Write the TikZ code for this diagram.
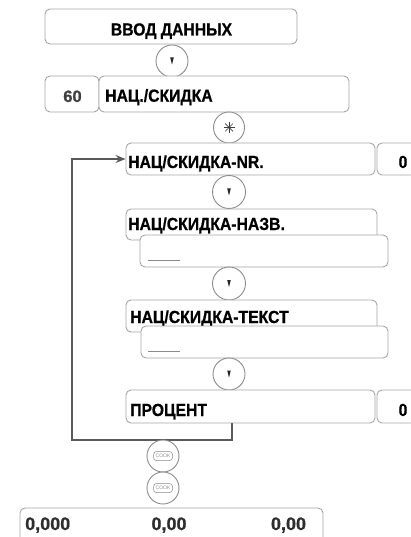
\documentclass[tikz,border=0pt]{standalone}
\usepackage{fontspec}
\setmainfont{Liberation Sans}
\newfontfamily\heavy{Liberation Sans}[FakeStretch=0.9, BoldFeatures={FakeBold=0.7}]
\newfontfamily\heavynum{Liberation Sans}[BoldFeatures={FakeBold=0.8}]
\usetikzlibrary{arrows.meta}
\definecolor{boxgray}{HTML}{A6A6A6}
\definecolor{circgray}{HTML}{8C8C8C}
\definecolor{loopgray}{HTML}{5A5A5A}
\definecolor{numgray}{HTML}{2E2E2E}
\begin{document}
\begin{tikzpicture}[x=1pt,y=-1pt,
  box/.style={draw=boxgray, line width=0.9pt, rounded corners=5pt, fill=white, inner sep=0pt},
  keycirc/.style={circle, draw=circgray, line width=0.9pt, fill=white, inner sep=0pt, minimum size=#1},
  keycirc/.default=32pt,
  lbl/.style={anchor=base west, inner sep=0pt, font=\fontsize{17.5}{20}\heavy\bfseries},
  num/.style={anchor=base, inner sep=0pt, text=numgray, font=\fontsize{18}{20}\heavynum\bfseries},
  blank/.style={draw=circgray, line width=0.8pt},
  dnarrow/.style={path picture={\fill[black!85] ([xshift=-1.8pt,yshift=3.5pt]path picture bounding box.center) -- ++(3.6pt,0pt) -- ++(-1.8pt,-7pt) -- cycle;}},
  star/.style={path picture={\foreach \a in {0,45,90,135}{\draw[black!75, line width=0.7pt] (path picture bounding box.center) ++(\a:5.5pt) -- ++(\a+180:11pt);}}},
  cookkey/.style={draw=circgray, line width=0.5pt, rounded corners=3pt, inner sep=1pt, minimum width=19pt, minimum height=9pt, text=circgray, font=\fontsize{5}{5}\selectfont},
  loopline/.style={draw=loopgray, line width=1.3pt, -{Stealth[length=10pt,width=8pt]}}
]
\useasboundingbox (0,0) rectangle (410,537);

% top box
\node[box, minimum width=252pt, minimum height=35pt] (bA) at (171,26.5) {};
\node[anchor=base, inner sep=0pt, font=\fontsize{17.5}{20}\heavy\bfseries] (tA) at (171.5,35.5) {ВВОД ДАННЫХ};
\node[keycirc, dnarrow] (c1) at (172,61) {};

% 60 / НАЦ./СКИДКА
\node[box, minimum width=54pt, minimum height=36pt] (b60) at (72,94) {};
\node[num, font=\fontsize{16.5}{18}\heavynum\bfseries, text=black!75] (t60) at (72.5,102) {60};
\node[box, minimum width=250pt, minimum height=36pt] (bNC) at (224,94) {};
\node[lbl] (tNC) at (105,101.7) {НАЦ./СКИДКА};
\node[keycirc=31pt, star] (c2) at (229,127.5) {};

% NR
\node[box, minimum width=249pt, minimum height=32pt] (bNR) at (250.5,159) {};
\node[lbl] (tNR) at (128,168) {НАЦ/СКИДКА-NR.};
\node[box, minimum width=48pt, minimum height=32pt] (b0a) at (401,159) {};
\node[anchor=base, inner sep=0pt, font=\fontsize{17.5}{20}\heavy\bfseries] (t0a) at (403,168) {0};
\node[keycirc=33pt, dnarrow] (c3) at (229,192) {};

% НАЗВ
\node[box, minimum width=251pt, minimum height=31pt] (bNZ) at (251.5,224.5) {};
\node[lbl] (tNZ) at (128,230) {НАЦ/СКИДКА-НАЗВ.};
\node[box, minimum width=248pt, minimum height=32pt] (iNZ) at (264,251) {};
\draw[blank] (148,260) -- (180,260);
\node[keycirc=33pt, dnarrow] (c4) at (229,283.5) {};

% ТЕКСТ
\node[box, minimum width=251pt, minimum height=32pt] (bTX) at (251.5,316) {};
\node[lbl] (tTX) at (130,323) {НАЦ/СКИДКА-ТЕКСТ};
\node[box, minimum width=247pt, minimum height=32pt] (iTX) at (264.5,342) {};
\draw[blank] (148,351) -- (180,351);
\node[keycirc=32pt, dnarrow] (c5) at (229,374) {};

% ПРОЦЕНТ
\node[box, minimum width=249pt, minimum height=33pt] (bPR) at (250.5,406.5) {};
\node[lbl] (tPR) at (130,416) {ПРОЦЕНТ};
\node[box, minimum width=48pt, minimum height=33pt] (b0b) at (401,406.5) {};
\node[anchor=base, inner sep=0pt, font=\fontsize{17.5}{20}\heavy\bfseries] (t0b) at (403,416) {0};

% loop
\coordinate (lp1) at (232,440);
\coordinate (lp2) at (72,440);
\draw[loopline] (bPR.south -| lp1) -- (lp1) -- (lp2) |- (bNR.west);

% cook keys
\node[keycirc=32pt] (k1) at (163,456) {};
\node[cookkey] (k1t) at (k1) {COOK};
\node[keycirc=32pt] (k2) at (163,488) {};
\node[cookkey] (k2t) at (k2) {COOK};

% bottom display
\node[box, minimum width=303pt, minimum height=37pt] (bD) at (171.5,526.5) {};
\node[num, anchor=base west] (d1) at (25,530) {0,000};
\node[num] (d2) at (169,530) {0,00};
\node[num] (d3) at (288.5,530) {0,00};
\end{tikzpicture}
\end{document}
